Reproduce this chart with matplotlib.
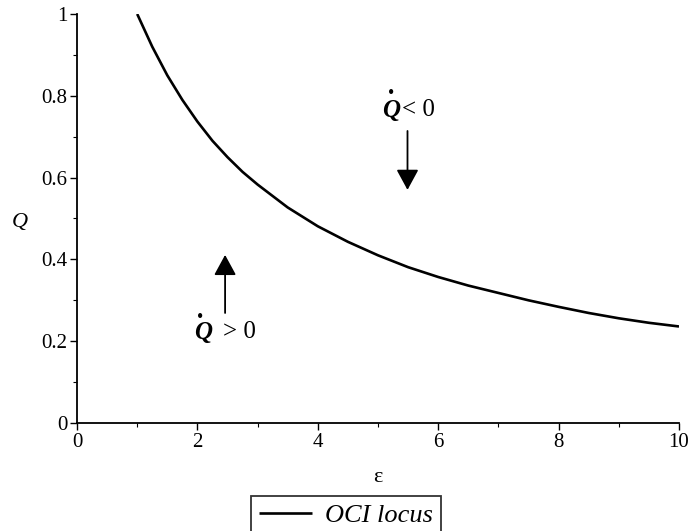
import matplotlib
matplotlib.use("Agg")
import matplotlib.pyplot as plt
from matplotlib.ticker import MultipleLocator

plt.rcParams['font.family'] = ['Liberation Serif', 'DejaVu Serif']

# values (OCI locus)
eps = [1.0, 1.25, 1.5, 1.75, 2.0, 2.25, 2.5, 2.75, 3.0, 3.5, 4.0, 4.5, 5.0, 5.5,
       6.0, 6.5, 7.0, 7.5, 8.0, 8.5, 9.0, 9.5, 10.0]
Q = [1.0, 0.920, 0.850, 0.790, 0.737, 0.690, 0.650, 0.614, 0.583, 0.527, 0.481,
     0.443, 0.410, 0.381, 0.357, 0.336, 0.318, 0.300, 0.284, 0.269, 0.256, 0.245, 0.236]

x_ticks = [0, 2, 4, 6, 8, 10]
y_ticks = [0, 0.2, 0.4, 0.6, 0.8, 1]
x_tick_labels = ['0', '2', '4', '6', '8', '10']
y_tick_labels = ['0', '0.2', '0.4', '0.6', '0.8', '1']

W, H = 692, 531
fig = plt.figure(figsize=(W/100, H/100), dpi=100)
ax = fig.add_axes([77/W, 1-423/H, (679-77)/W, (423-14)/H])

line, = ax.plot(eps, Q, color='black', lw=1.9, label='OCI locus',
                solid_joinstyle='round', solid_capstyle='butt')

ax.set_xlim(0, 10)
ax.set_ylim(0, 1)
ax.set_xticks(x_ticks)
ax.set_xticklabels(x_tick_labels)
ax.set_yticks(y_ticks)
ax.set_yticklabels(y_tick_labels)
ax.xaxis.set_minor_locator(MultipleLocator(1))
ax.yaxis.set_minor_locator(MultipleLocator(0.1))
for s in ['top', 'right']:
    ax.spines[s].set_visible(False)
for s in ['left', 'bottom']:
    ax.spines[s].set_linewidth(1.3)
ax.tick_params(which='major', direction='out', length=5, width=1, labelsize=15, pad=2)
ax.tick_params(which='minor', direction='out', length=3, width=0.8)

ax.set_xlabel('ε', fontsize=16, va='center')
ax.xaxis.set_label_coords(0.5, -55/409)
ax.set_ylabel('Q', fontsize=16, style='italic', rotation=0, ha='center', va='center')
ax.yaxis.set_label_coords(-57/602, 200/409)

arrow_props = dict(arrowstyle='-|>,head_length=1.25,head_width=0.68', color='black',
                   lw=1.3, mutation_scale=10, shrinkA=0, shrinkB=0)
ax.annotate('', xy=(2.46, 0.411), xytext=(2.46, 0.269), arrowprops=arrow_props)
ax.annotate('', xy=(5.49, 0.570), xytext=(5.49, 0.714), arrowprops=arrow_props)

# Q-dot > 0
ax.text(2.09, 0.222, 'Q', fontsize=18, style='italic', weight='bold', ha='center', va='center')
ax.text(2.05, 0.236, '•', fontsize=13, ha='center', va='bottom')
ax.text(2.42, 0.222, '> 0', fontsize=18, ha='left', va='center')
# Q-dot < 0
ax.text(5.22, 0.765, 'Q', fontsize=18, style='italic', weight='bold', ha='center', va='center')
ax.text(5.21, 0.786, '•', fontsize=13, ha='center', va='bottom')
ax.text(5.40, 0.765, '< 0', fontsize=18, ha='left', va='center')

leg = fig.legend(handles=[line], loc='upper center', bbox_to_anchor=(346/W, 1-496/H),
                 prop={'style': 'italic', 'size': 19}, frameon=True, fancybox=False,
                 edgecolor='black', handlelength=2.0, handletextpad=0.5,
                 borderpad=0.3, borderaxespad=0)
leg.get_frame().set_linewidth(1.3)

fig.savefig('out.png', dpi=100)
